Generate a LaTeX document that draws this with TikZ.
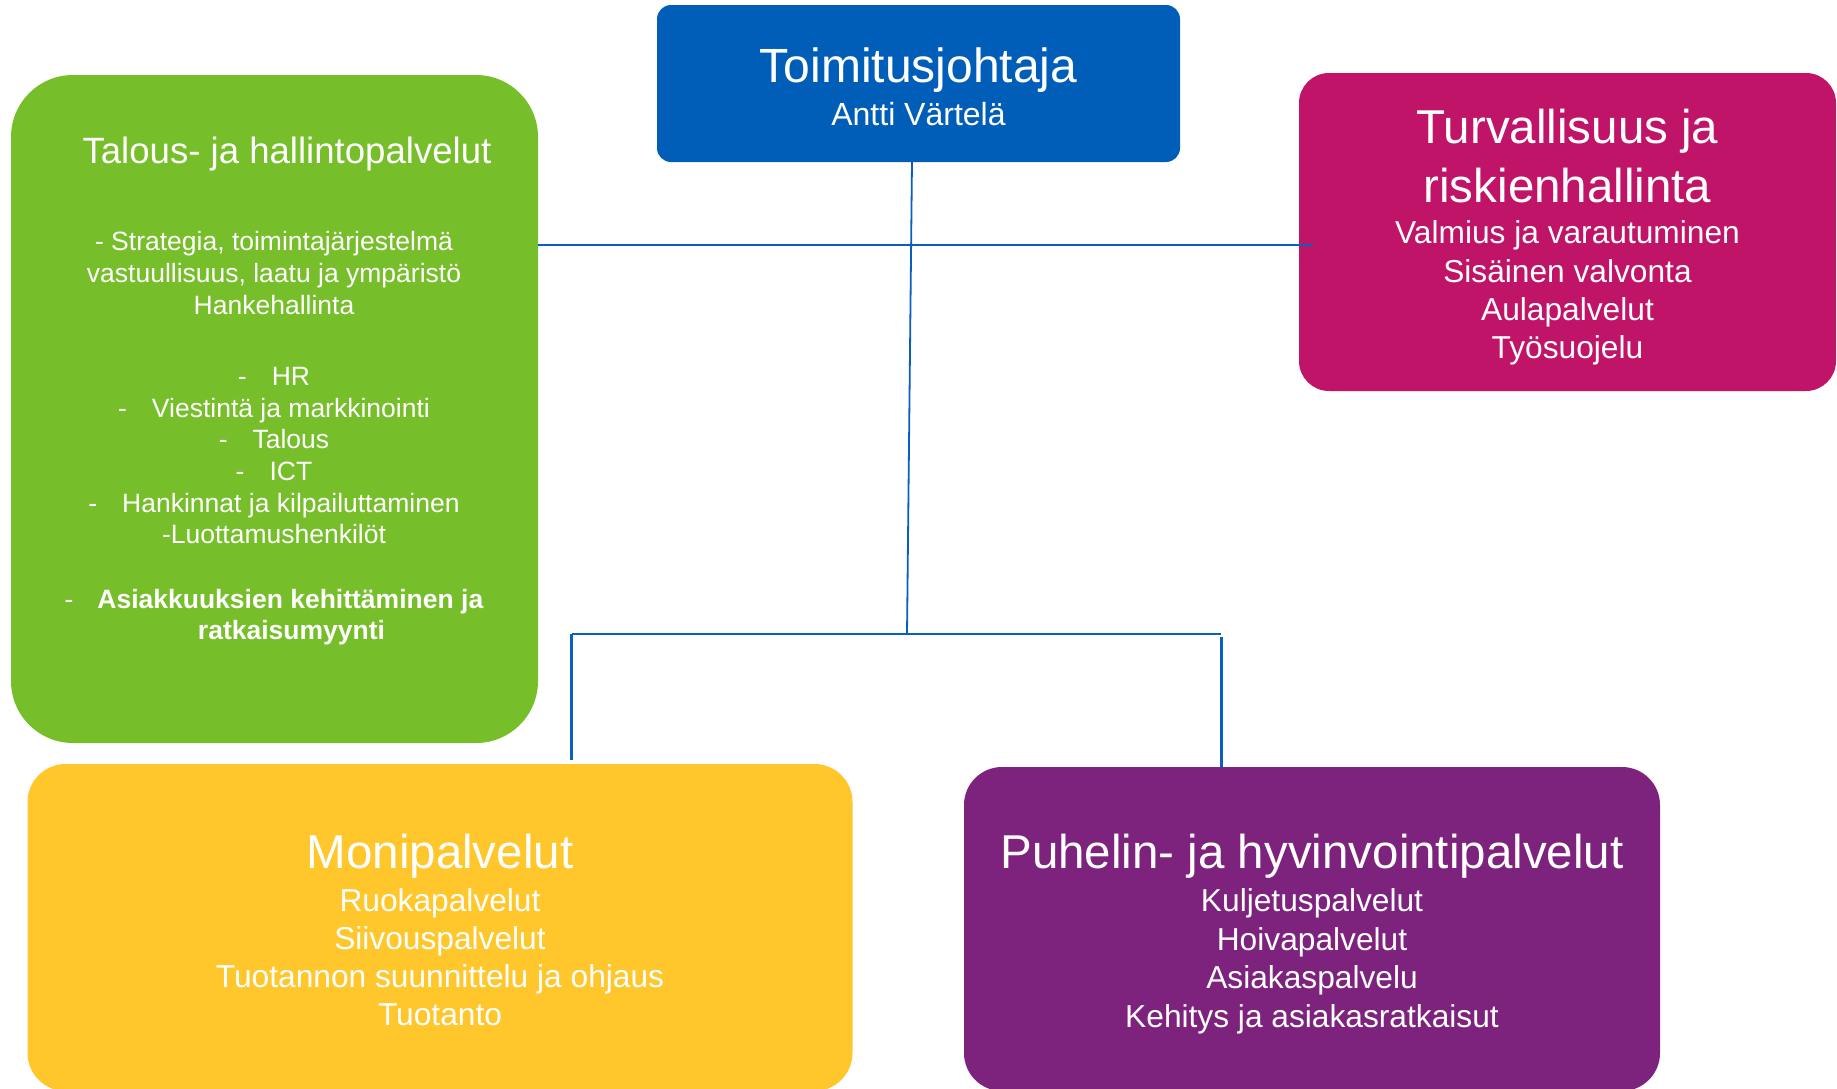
\documentclass[tikz,border=0pt]{standalone}
\usepackage{fontspec}
\setmainfont{Liberation Sans}
\definecolor{cblue}{RGB}{0,94,184}
\definecolor{cgreen}{RGB}{118,190,42}
\definecolor{cmag}{RGB}{192,20,104}
\definecolor{cyellow}{RGB}{255,199,44}
\definecolor{cpurple}{RGB}{125,34,125}
\definecolor{lineblue}{RGB}{10,94,192}
\tikzset{
 box/.style={rectangle, inner sep=0pt, outer sep=0pt, anchor=north west, draw=none},
 txt/.style={text=white, inner sep=0pt, anchor=base},
 ttl/.style={txt, font=\fontsize{47.5}{57}\selectfont},
 sub/.style={txt, font=\fontsize{31.7}{38}\selectfont},
 gbody/.style={txt, font=\fontsize{26.5}{31.5}\selectfont},
 conn/.style={draw=lineblue, line width=1.8pt},
 bus/.style={draw=lineblue, line width=2.6pt},
}
\begin{document}
\begin{tikzpicture}[x=1pt,y=-1pt]
\useasboundingbox (0,0) rectangle (1837,1088);
\clip (0,0) rectangle (1837,1088);

% boxes
\node[box, fill=cblue, rounded corners=14pt, minimum width=523pt, minimum height=157pt] (ceo) at (657,5) {};
\node[box, fill=cgreen, rounded corners=62pt, minimum width=527pt, minimum height=668pt] (green) at (11,75) {};
\node[box, fill=cmag, rounded corners=30pt, minimum width=537pt, minimum height=318pt] (mag) at (1299,73) {};
\node[box, fill=cyellow, rounded corners=38pt, minimum width=825pt, minimum height=327pt] (yellow) at (27.5,764) {};
\node[box, fill=cpurple, rounded corners=38pt, minimum width=696pt, minimum height=324pt] (purple) at (964,767) {};

% connectors
\coordinate (hy) at (0,245);
\coordinate (ceoOut) at (912,162);
\coordinate (j) at (907,634);
\coordinate (bl) at (571.5,634);
\coordinate (br) at (1221,634);
\draw[conn] (green.east |- hy) -- ([xshift=14pt]mag.west |- hy);
\draw[conn] (ceoOut) -- (j);
\draw[bus] (bl) -- (br);
\draw[bus] (bl) -- ([yshift=4pt]yellow.north -| bl);
\draw[bus, line width=3pt] ([yshift=-3pt]br) -- (purple.north -| br);

% CEO
\node[txt, font=\fontsize{48}{56}\selectfont] (ceoT) at (918.5,82) {Toimitusjohtaja};
\node[txt, font=\fontsize{32}{38}\selectfont] (ceoN) at (918.5,125) {Antti Värtelä};

% green
\node[txt, font=\fontsize{36.6}{44}\selectfont] (gT) at (287,163) {Talous- ja hallintopalvelut};
\node[gbody] (g1) at (274,250) {- Strategia, toimintajärjestelmä};
\node[gbody] (g2) at (274,282) {vastuullisuus, laatu ja ympäristö};
\node[gbody] (g3) at (274,314) {Hankehallinta};
\node[gbody] (g4) at (274,385) {-\hspace{25pt}HR};
\node[gbody] (g5) at (274,417) {-\hspace{25pt}Viestintä ja markkinointi};
\node[gbody] (g6) at (274,448) {-\hspace{25pt}Talous};
\node[gbody] (g7) at (274,480) {-\hspace{25pt}ICT};
\node[gbody] (g8) at (274,512) {-\hspace{25pt}Hankinnat ja kilpailuttaminen};
\node[gbody] (g9) at (274,543) {-Luottamushenkilöt};
\node[gbody] (g10) at (274,608) {-\hspace{24pt}\textbf{Asiakkuuksien kehittäminen ja}};
\node[gbody] (g11) at (291.5,639) {\textbf{ratkaisumyynti}};

% magenta
\node[ttl] (mT1) at (1567.5,143) {Turvallisuus ja};
\node[ttl] (mT2) at (1567.5,202) {riskienhallinta};
\node[sub] (m1) at (1567.5,243) {Valmius ja varautuminen};
\node[sub] (m2) at (1567.5,282) {Sisäinen valvonta};
\node[sub] (m3) at (1567.5,320) {Aulapalvelut};
\node[sub] (m4) at (1567.5,358) {Työsuojelu};

% yellow
\node[ttl] (yT) at (440,868) {Monipalvelut};
\node[sub] (y1) at (440,911) {Ruokapalvelut};
\node[sub] (y2) at (440,949) {Siivouspalvelut};
\node[sub] (y3) at (440,987) {Tuotannon suunnittelu ja ohjaus};
\node[sub] (y4) at (440,1025) {Tuotanto};

% purple
\node[ttl] (pT) at (1312,868) {Puhelin- ja hyvinvointipalvelut};
\node[sub] (p1) at (1312,911) {Kuljetuspalvelut};
\node[sub] (p2) at (1312,950) {Hoivapalvelut};
\node[sub] (p3) at (1312,988) {Asiakaspalvelu};
\node[sub] (p4) at (1312,1027) {Kehitys ja asiakasratkaisut};
\end{tikzpicture}
\end{document}
